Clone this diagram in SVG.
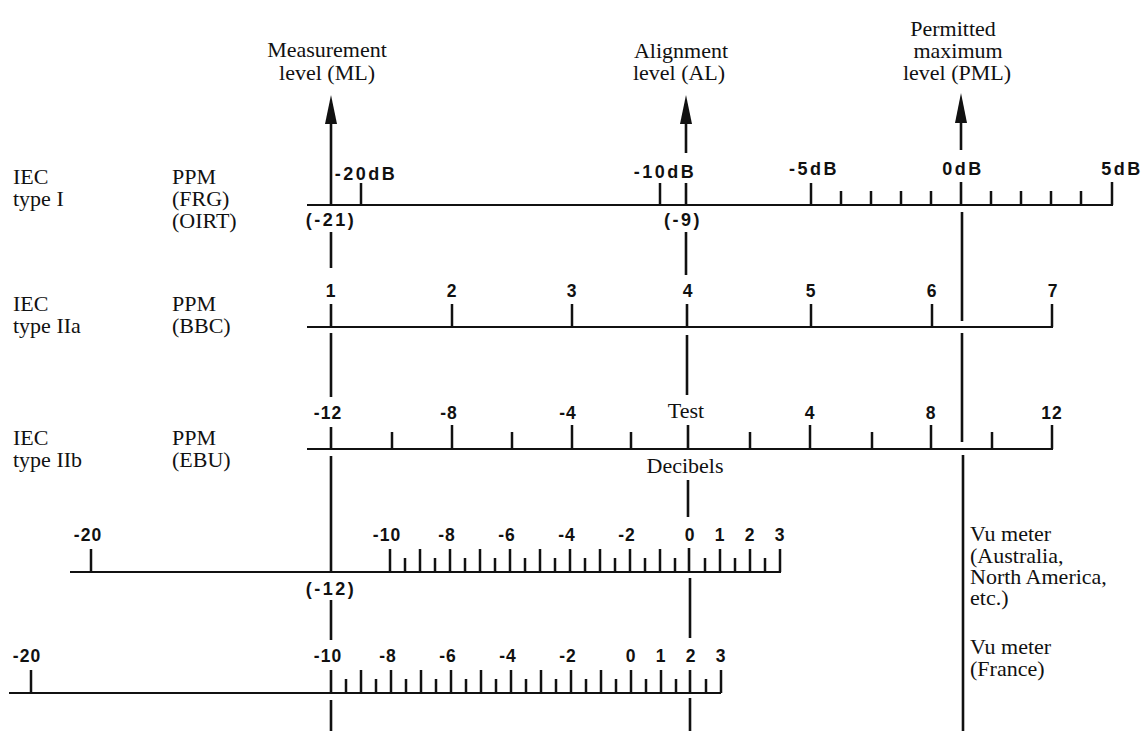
<svg xmlns="http://www.w3.org/2000/svg" width="1145" height="731" viewBox="0 0 1145 731">
<style>
.serif{font-family:"Liberation Serif","Times New Roman",serif;font-size:22px;fill:#111}
.mid{text-anchor:middle}
.num{font-family:"Liberation Sans",Arial,sans-serif;font-weight:bold;font-size:17.5px;fill:#111;text-anchor:middle;letter-spacing:1px}
.db{font-size:18px;letter-spacing:2.5px}
.axis{stroke:#111;stroke-width:2;fill:none}
.tick{stroke:#111;stroke-width:2.5;fill:none}
.ref{stroke:#111;stroke-width:2.6;fill:none}
.head{fill:#111}
</style>
<rect width="1145" height="731" fill="#fff"/>

<g id="ref-labels">
  <text class="serif mid" x="327" y="57">Measurement</text>
  <text class="serif mid" x="327" y="80">level (ML)</text>
  <text class="serif mid" x="681" y="58">Alignment</text>
  <text class="serif mid" x="679" y="80">level (AL)</text>
  <text class="serif mid" x="953" y="36">Permitted</text>
  <text class="serif mid" x="958" y="58">maximum</text>
  <text class="serif mid" x="957" y="80">level (PML)</text>
</g>

<g id="connectors">
  <g id="ml-line">
    <polygon class="head" points="331,95 325,124 337,124"/>
    <path class="ref" d="M331,122V205 M331,232V268 M331,304V327 M331,333V397 M331,427V449 M331,456V572 M331,600V640 M331,670V693 M331,700V731"/>
  </g>
  <g id="al-line">
    <polygon class="head" points="686,95 680,124 692,124"/>
    <path class="ref" d="M686,122V153 M686,183V205 M686,232V275 M687,304V327 M687,335V395 M688,425V449 M688,480V517 M689,548V572 M690,578V638 M690,670V693 M690,698V731"/>
  </g>
  <g id="pml-line">
    <polygon class="head" points="961,93 955,123 967,123"/>
    <path class="ref" d="M961,121V150 M961,182V205 M962,212V321 M962,333V442 M963,455V731"/>
  </g>
</g>

<g id="scale-iec-type-I">
  <text class="serif" x="13" y="184">IEC</text>
  <text class="serif" x="13" y="206">type I</text>
  <text class="serif" x="172" y="184">PPM</text>
  <text class="serif" x="172" y="206">(FRG)</text>
  <text class="serif" x="172" y="228">(OIRT)</text>
  <path class="axis" d="M307,205H1113"/>
  <path class="tick" d="M361,183V205 M660,183V205 M811,183V205 M1112,182V205"/>
  <path class="tick" d="M841,191V205 M871,191V205 M901,191V205 M931,191V205 M991,191V205 M1021,191V205 M1051,191V205 M1081,191V205"/>
  <text class="num db" x="366" y="180">-20dB</text>
  <text class="num db" x="665" y="178">-10dB</text>
  <text class="num db" x="814" y="175">-5dB</text>
  <text class="num db" x="963" y="175">0dB</text>
  <text class="num db" x="1122" y="175">5dB</text>
  <text class="num db" x="331" y="226">(-21)</text>
  <text class="num db" x="683" y="226">(-9)</text>
</g>

<g id="scale-iec-type-IIa">
  <text class="serif" x="13" y="311">IEC</text>
  <text class="serif" x="13" y="333">type IIa</text>
  <text class="serif" x="172" y="311">PPM</text>
  <text class="serif" x="172" y="333">(BBC)</text>
  <path class="axis" d="M307,327H1053"/>
  <path class="tick" d="M452,304V327 M572,304V327 M811,304V327 M932,304V327 M1052,304V327"/>
  <text class="num" x="331" y="297">1</text>
  <text class="num" x="452" y="297">2</text>
  <text class="num" x="572" y="297">3</text>
  <text class="num" x="688" y="297">4</text>
  <text class="num" x="811" y="297">5</text>
  <text class="num" x="932" y="297">6</text>
  <text class="num" x="1053" y="297">7</text>
</g>

<g id="scale-iec-type-IIb">
  <text class="serif" x="13" y="445">IEC</text>
  <text class="serif" x="13" y="467">type IIb</text>
  <text class="serif" x="172" y="445">PPM</text>
  <text class="serif" x="172" y="467">(EBU)</text>
  <path class="axis" d="M307,449H1053"/>
  <path class="tick" d="M452,425V449 M572,425V449 M810,425V449 M931,425V449 M1052,425V449"/>
  <path class="tick" d="M392,432V449 M512,432V449 M631,432V449 M750,432V449 M872,432V449 M992,432V449"/>
  <text class="num" x="328" y="419">-12</text>
  <text class="num" x="449" y="419">-8</text>
  <text class="num" x="568" y="419">-4</text>
  <text class="serif mid" x="686" y="418">Test</text>
  <text class="serif mid" x="685" y="473">Decibels</text>
  <text class="num" x="810" y="419">4</text>
  <text class="num" x="931" y="419">8</text>
  <text class="num" x="1052" y="419">12</text>
</g>

<g id="scale-vu-australia">
  <path class="axis" d="M70,572H781"/>
  <path class="tick" d="M91,549V572 M390,549V572 M420,549V572 M450,549V572 M480,549V572 M510,549V572 M540,549V572 M570,549V572 M600,549V572 M630,549V572 M660,549V572 M720,549V572 M750,549V572 M780,549V572"/>
  <path class="tick" d="M405,558V572 M435,558V572 M465,558V572 M495,558V572 M525,558V572 M555,558V572 M585,558V572 M615,558V572 M645,558V572 M675,558V572 M705,558V572 M735,558V572 M765,558V572"/>
  <text class="num" x="88" y="541">-20</text>
  <text class="num" x="387" y="541">-10</text>
  <text class="num" x="447" y="541">-8</text>
  <text class="num" x="507" y="541">-6</text>
  <text class="num" x="567" y="541">-4</text>
  <text class="num" x="627" y="541">-2</text>
  <text class="num" x="690" y="541">0</text>
  <text class="num" x="720" y="541">1</text>
  <text class="num" x="750" y="541">2</text>
  <text class="num" x="780" y="541">3</text>
  <text class="num db" x="331" y="595">(-12)</text>
  <text class="serif" x="970" y="541">Vu meter</text>
  <text class="serif" x="970" y="563">(Australia,</text>
  <text class="serif" x="970" y="584">North America,</text>
  <text class="serif" x="970" y="605">etc.)</text>
</g>

<g id="scale-vu-france">
  <path class="axis" d="M9,693H721"/>
  <path class="tick" d="M31,670V693 M361,670V693 M391,670V693 M421,670V693 M451,670V693 M481,670V693 M511,670V693 M541,670V693 M571,670V693 M601,670V693 M631,670V693 M661,670V693 M721,670V693"/>
  <path class="tick" d="M346,679V693 M376,679V693 M406,679V693 M436,679V693 M466,679V693 M496,679V693 M526,679V693 M556,679V693 M586,679V693 M616,679V693 M646,679V693 M676,679V693 M706,679V693"/>
  <text class="num" x="27" y="662">-20</text>
  <text class="num" x="328" y="662">-10</text>
  <text class="num" x="388" y="662">-8</text>
  <text class="num" x="448" y="662">-6</text>
  <text class="num" x="508" y="662">-4</text>
  <text class="num" x="568" y="662">-2</text>
  <text class="num" x="631" y="662">0</text>
  <text class="num" x="661" y="662">1</text>
  <text class="num" x="691" y="662">2</text>
  <text class="num" x="721" y="662">3</text>
  <text class="serif" x="970" y="654">Vu meter</text>
  <text class="serif" x="970" y="676">(France)</text>
</g>
</svg>
